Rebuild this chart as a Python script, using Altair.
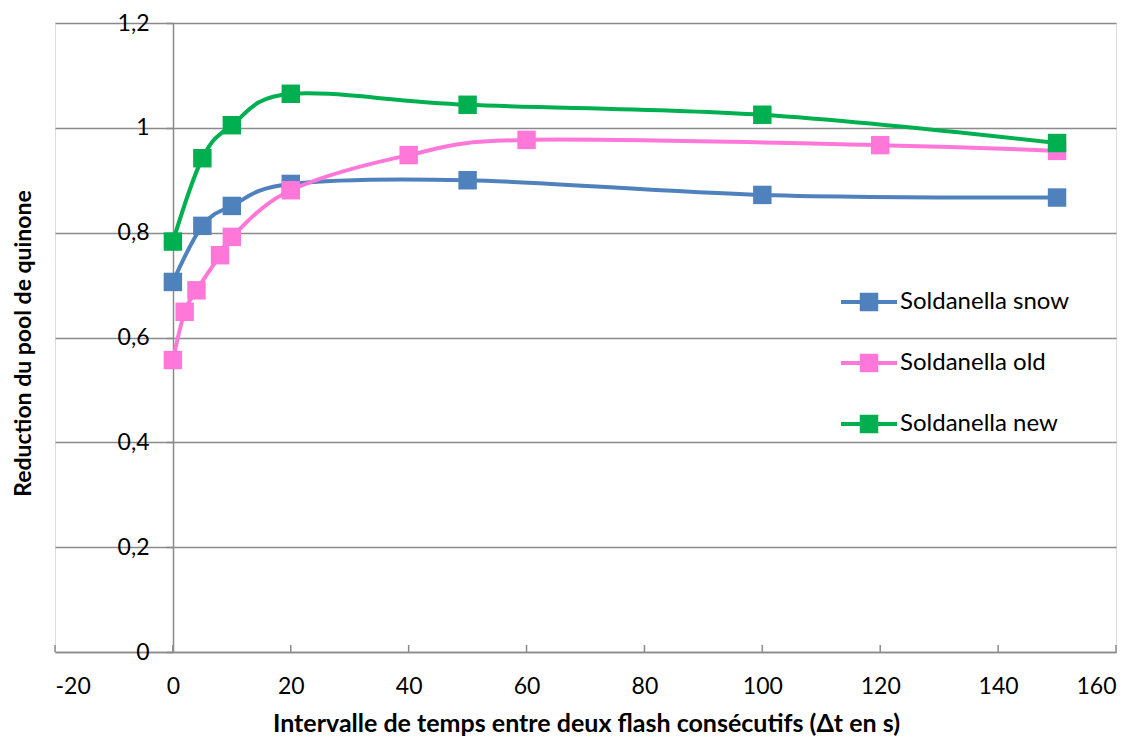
import altair as alt
import pandas as pd

series_names = ["Soldanella snow", "Soldanella old", "Soldanella new"]
series_colors = ["#4F81BD", "#FF77D9", "#00B050"]

snow_x = [0, 5, 10, 20, 50, 100, 150]
snow_y = [0.706, 0.813, 0.851, 0.893, 0.900, 0.872, 0.867]

old_x = [0, 2, 4, 8, 10, 20, 40, 60, 120, 150]
old_y = [0.557, 0.649, 0.690, 0.757, 0.792, 0.881, 0.948, 0.977, 0.967, 0.956]

new_x = [0, 5, 10, 20, 50, 100, 150]
new_y = [0.783, 0.942, 1.005, 1.065, 1.044, 1.025, 0.971]

x_ticks = [-20, 0, 20, 40, 60, 80, 100, 120, 140, 160]
y_ticks = [0, 0.2, 0.4, 0.6, 0.8, 1.0, 1.2]

rows = []
for name, xs, ys in zip(series_names, [snow_x, old_x, new_x], [snow_y, old_y, new_y]):
    for i, (xv, yv) in enumerate(zip(xs, ys)):
        rows.append({"series": name, "t": xv, "r": yv, "order": i})
df = pd.DataFrame(rows)

tick_len = 0.0134
tick_df = pd.DataFrame({"t": x_ticks, "r": [0] * len(x_ticks), "r2": [tick_len] * len(x_ticks)})

FONT = "Lato"
GRID = "#8a8a8a"

legend_path = "M-1,-0.075H1V0.075H-1Z M-0.33,-0.33H0.33V0.33H-0.33Z"

color = alt.Color(
    "series:N",
    scale=alt.Scale(domain=series_names, range=series_colors),
    legend=alt.Legend(
        title=None,
        orient="none",
        legendX=786,
        legendY=251,
        symbolType=legend_path,
        symbolSize=3136,
        symbolStrokeWidth=0,
        labelFont=FONT,
        labelFontSize=24,
        labelColor="#000000",
        labelOffset=3,
        rowPadding=21,
        padding=0,
        labelLimit=400,
    ),
)

x_enc = alt.X(
    "t:Q",
    scale=alt.Scale(domain=[-20, 160], nice=False, zero=False),
    axis=alt.Axis(
        values=x_ticks,
        title="Intervalle de temps entre deux flash consécutifs (Δt en s)",
        ticks=False,
        tickSize=0,
        grid=False,
        domainColor=GRID,
        domainWidth=1.5,
        labelPadding=23,
        labelFont=FONT,
        labelFontSize=23,
        labelColor="#000000",
        labelExpr="datum.value + ''",
        titleFont=FONT,
        titleFontSize=25,
        titleFontWeight="bold",
        titleColor="#000000",
        titleX=531,
        titleY=71,
        titleBaseline="middle",
        titleAlign="center",
        titleLimit=1000,
    ),
)

y_enc = alt.Y(
    "r:Q",
    scale=alt.Scale(domain=[0, 1.2], nice=False),
    axis=alt.Axis(
        values=y_ticks,
        offset=-118,
        title="Reduction du pool de quinone",
        grid=True,
        gridColor=GRID,
        gridWidth=1.5,
        domainColor=GRID,
        domainWidth=1.5,
        tickColor=GRID,
        tickWidth=1.5,
        tickSize=7,
        labelPadding=17,
        labelFont=FONT,
        labelFontSize=23,
        labelColor="#000000",
        labelExpr="replace(format(datum.value, '~g'), '.', ',')",
        titleFont=FONT,
        titleFontSize=23,
        titleFontWeight="bold",
        titleColor="#000000",
        titleX=-150,
        titleY=320,
        titleBaseline="middle",
        titleAlign="center",
        titleAngle=270,
        titleLimit=1000,
    ),
)

ticks = alt.Chart(tick_df).mark_rule(color=GRID, strokeWidth=1.5).encode(
    x=x_enc, y=y_enc, y2="r2:Q"
)

lines = alt.Chart(df).mark_line(interpolate="cardinal", strokeWidth=4).encode(
    x=x_enc, y=y_enc, color=color, order="order:Q"
)

points = alt.Chart(df).mark_point(shape="square", filled=True, size=340, opacity=1).encode(
    x=x_enc, y=y_enc, color=color
)

chart = (
    alt.layer(ticks, lines, points)
    .properties(
        width=1061,
        height=629,
        autosize=alt.AutoSizeParams(type="none"),
        padding={"left": 47, "top": 15, "right": 15, "bottom": 86},
    )
    .configure_view(stroke=None)
    .configure(font=FONT)
)

chart.save("out.html", embed_options={"renderer": "svg", "actions": False})
